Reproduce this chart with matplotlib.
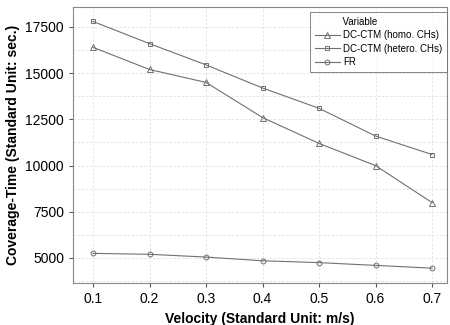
import numpy as np
import matplotlib
matplotlib.use("Agg")
import matplotlib.pyplot as plt

plt.rcParams['font.family'] = ['Liberation Sans', 'DejaVu Sans']

velocity = [0.1, 0.2, 0.3, 0.4, 0.5, 0.6, 0.7]
homo = [16400, 15200, 14500, 12600, 11200, 10000, 8000]
hetero = [17800, 16600, 15450, 14200, 13100, 11600, 10600]
fr = [5250, 5200, 5050, 4850, 4750, 4600, 4450]

fig = plt.figure(figsize=(4.5, 3.25), dpi=100)
ax = fig.add_axes([73/450, 1-283/325, 374/450, 276/325])

lc = '#707070'
ax.plot(velocity, homo, color=lc, lw=0.8, marker='^', ms=4.5, mfc='none', mec=lc, mew=0.7,
        label='DC-CTM (homo. CHs)')
ax.plot(velocity, hetero, color=lc, lw=0.8, marker='s', ms=3.5, mfc='none', mec=lc, mew=0.7,
        label='DC-CTM (hetero. CHs)')
ax.plot(velocity, fr, color=lc, lw=0.8, marker='o', ms=3.5, mfc='none', mec=lc, mew=0.7,
        label='FR')

ax.set_xlim(0.0646, 0.7265)
ax.set_ylim(3647, 18582)
ax.set_xticks(velocity)
ax.set_xticklabels(['0.1', '0.2', '0.3', '0.4', '0.5', '0.6', '0.7'])
ax.set_yticks([5000, 7500, 10000, 12500, 15000, 17500])
ax.set_yticks(np.arange(3750, 18600, 1250), minor=True)
ax.grid(True, which='both', axis='y', ls=(0, (3, 2)), color='#e0e0e0', lw=0.6)
ax.grid(True, which='major', axis='x', ls=(0, (3, 2)), color='#e0e0e0', lw=0.6)
ax.tick_params(which='minor', length=0)
ax.tick_params(which='major', labelsize=10, color='#555555', length=3)
for s in ax.spines.values():
    s.set_color('#888888')

ax.set_xlabel('Velocity (Standard Unit: m/s)', fontsize=10, fontweight='bold')
ax.set_ylabel('Coverage-Time (Standard Unit: sec.)', fontsize=10, fontweight='bold')

leg = ax.legend(title='          Variable', loc='upper right', fontsize=7, title_fontsize=7,
                frameon=True, fancybox=False, edgecolor='#666666',
                bbox_to_anchor=(1.0, 0.982), borderaxespad=0.0, borderpad=0.5,
                handlelength=2.6, handletextpad=0.3, labelspacing=0.35,
                alignment='left')
leg.get_frame().set_linewidth(0.7)

fig.savefig('out.png', dpi=100)
